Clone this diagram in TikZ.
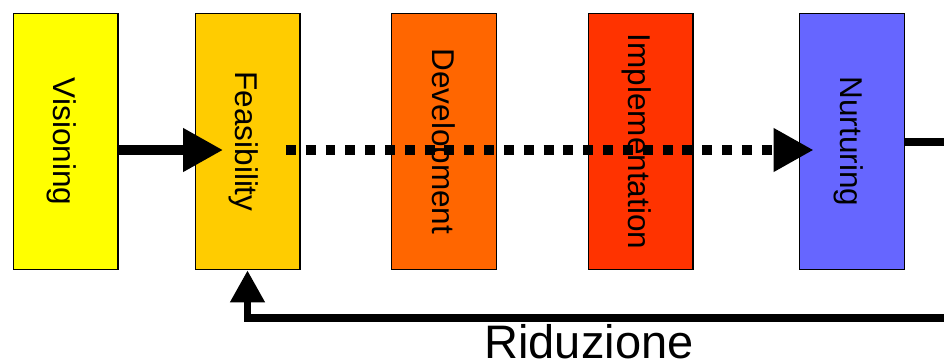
\documentclass[tikz,border=0pt]{standalone}
\usepackage{fontspec}
\setmainfont{Liberation Sans}
\usetikzlibrary{arrows.meta,calc}
\definecolor{cVis}{HTML}{FFFF00}
\definecolor{cFeas}{HTML}{FFCC00}
\definecolor{cDev}{HTML}{FF6600}
\definecolor{cImp}{HTML}{FF3300}
\definecolor{cNur}{HTML}{6666FF}
\begin{document}
\begin{tikzpicture}[x=1pt,y=-1pt,
  phase/.style={draw=black, line width=1.3pt, minimum width=104.7pt, minimum height=255.7pt, inner sep=0pt, outer sep=0pt},
  phaselabel/.style={rotate=-90, anchor=base, font=\fontsize{31.5}{36}\selectfont, inner sep=0pt, text=black},
  flow/.style={line width=10pt, -{Triangle[length=40pt,width=41pt]}},
  dotflow/.style={line width=10pt, dash pattern=on 9.9pt off 9.93pt, -{Triangle[length=40pt,width=41pt]}},
  backflow/.style={line width=7.5pt, line join=miter, -{Triangle[length=32pt,width=33pt]}},
  outline/.style={line width=8pt}]
\useasboundingbox (0,0) rectangle (944,362);
\node[phase, fill=cVis]  (vis)  at (65.7,141.5) {};
\node[phase, fill=cFeas] (feas) at (247.5,141.5) {};
\node[phase, fill=cDev]  (dev)  at (444,141.5) {};
\node[phase, fill=cImp]  (imp)  at (640.5,141.5) {};
\node[phase, fill=cNur]  (nur)  at (852,141.5) {};
\node[phaselabel] (visT)  at ($(vis.center)+(-12,0)$)  {Visioning};
\node[phaselabel] (feasT) at ($(feas.center)+(-12,0)$) {Feasibility};
\node[phaselabel] (devT)  at ($(dev.center)+(-12,0)$)  {Development};
\node[phaselabel] (impT)  at ($(imp.center)+(-12,0)$)  {Implementation};
\node[phaselabel] (nurT)  at ($(nur.center)+(-12,0)$)  {Nurturing};
\draw[flow] ($(vis.east)+(0,8.5)$) -- ($(feas.west)+(28,8.5)$);
\draw[dotflow] ($(feas.east)+(-14,8.5)$) -- ($(nur.west)+(14,8.5)$);
\coordinate (outR) at (944,142);
\draw[outline] (nur.east |- outR) -- (outR);
\coordinate (backR) at (944,318);
\draw[backflow] (backR) -- (feas.south |- backR) -- ($(feas.south)+(0,1)$);
\node[font=\fontsize{47}{50}\selectfont, anchor=base, inner sep=0pt] (rid) at (589,358) {Riduzione};
\end{tikzpicture}
\end{document}
